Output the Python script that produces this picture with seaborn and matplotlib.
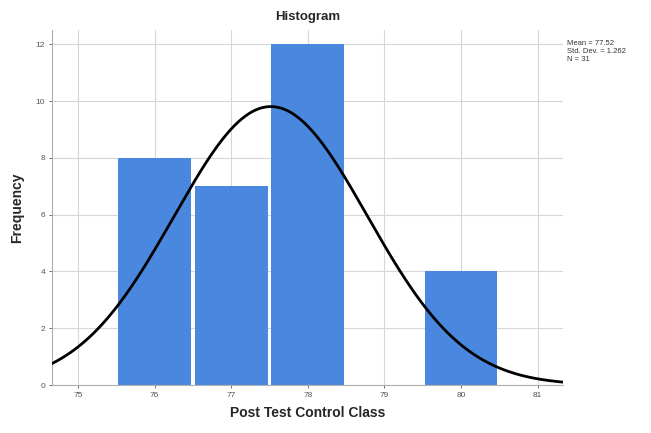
import numpy as np
import pandas as pd
import matplotlib
matplotlib.use("Agg")
import matplotlib.pyplot as plt
import seaborn as sns

# Post-test scores of the control class and how many students got each
scores = [76, 77, 78, 80]
frequency = [8, 7, 12, 4]
x_ticks = [75, 76, 77, 78, 79, 80, 81]
y_ticks = [0, 2, 4, 6, 8, 10, 12]

df = pd.DataFrame({"score": scores, "freq": frequency})
n = int(np.sum(frequency))
mean = np.average(scores, weights=frequency)
sd = np.sqrt(np.sum(np.array(frequency) * (np.array(scores) - mean) ** 2) / (n - 1))

sns.set_theme(style="white")
plt.rcParams["font.family"] = ["Liberation Sans", "DejaVu Sans"]

fig = plt.figure(figsize=(6.51, 4.33), dpi=100)
ax = fig.add_axes([52 / 651, 1 - 385 / 433, (563 - 52) / 651, (385 - 30) / 433])

ax.set_xlim(74.66, 81.33)
ax.set_ylim(0, 12.5)
ax.set_xticks(x_ticks)
ax.set_yticks(y_ticks)
ax.grid(True, color="#d6d6d6", linewidth=0.8)
ax.set_axisbelow(True)

sns.histplot(data=df, x="score", weights="freq", discrete=True, shrink=0.95,
             color="#4a88e0", alpha=1.0, edgecolor="none", ax=ax, zorder=2)

# Normal curve scaled to the counts (bin width 1)
xs = np.linspace(74.66, 81.33, 400)
ys = n / (sd * np.sqrt(2 * np.pi)) * np.exp(-0.5 * ((xs - mean) / sd) ** 2)
sns.lineplot(x=xs, y=ys, color="black", linewidth=2, ax=ax, zorder=3)

for side in ["top", "right"]:
    ax.spines[side].set_visible(False)
for side in ["left", "bottom"]:
    ax.spines[side].set_color("#b0b0b0")
    ax.spines[side].set_linewidth(0.8)

ax.tick_params(axis="both", labelsize=6, colors="#555555", length=2, width=0.6,
               left=True, bottom=True, pad=3)
ax.set_xlabel("Post Test Control Class", fontsize=10, fontweight="bold", labelpad=5)
ax.set_ylabel("Frequency", fontsize=10, fontweight="bold", labelpad=8)
ax.set_title("Histogram", fontsize=9.5, fontweight="bold", pad=7)

fig.text(567 / 651, 1 - 40 / 433,
         f"Mean = {mean:.2f}\nStd. Dev. = {sd:.3f}\nN = {n}",
         fontsize=5.5, color="#333333", va="top", ha="left", linespacing=1.2)

fig.savefig("out.png", dpi=100)
